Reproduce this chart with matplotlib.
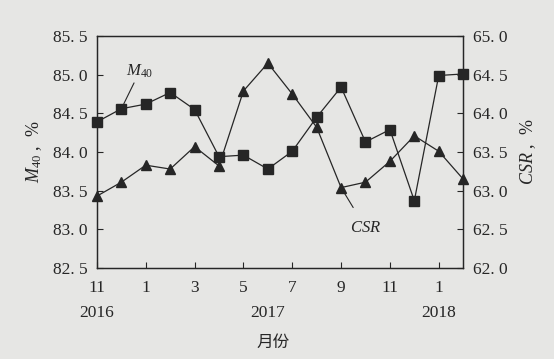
import numpy as np
import matplotlib
matplotlib.use("Agg")
import matplotlib.pyplot as plt
import matplotlib.transforms as mtransforms

plt.rcParams['font.family'] = ['Liberation Serif', 'Noto Sans CJK SC', 'DejaVu Sans']
plt.rcParams['mathtext.fontset'] = 'custom'
plt.rcParams['mathtext.it'] = 'Liberation Serif:italic'
plt.rcParams['mathtext.rm'] = 'Liberation Serif'

# months Nov 2016 .. Feb 2018
month_idx = list(range(16))
m40 = [84.39, 84.56, 84.62, 84.77, 84.55, 83.94, 83.96, 83.78,
       84.01, 84.45, 84.84, 84.13, 84.29, 83.37, 84.99, 85.01]
csr = [62.93, 63.11, 63.33, 63.28, 63.57, 63.32, 64.29, 64.65,
       64.25, 63.82, 63.04, 63.11, 63.38, 63.71, 63.51, 63.15]
tick_pos = [0, 2, 4, 6, 8, 10, 12, 14]
tick_lab = ['11', '1', '3', '5', '7', '9', '11', '1']
years = [(0, '2016'), (7, '2017'), (14, '2018')]
left_ticks = [82.5, 83.0, 83.5, 84.0, 84.5, 85.0, 85.5]
right_ticks = [62.0, 62.5, 63.0, 63.5, 64.0, 64.5, 65.0]

bg = '#e6e6e4'
ink = '#262626'

fig = plt.figure(figsize=(5.54, 3.59), dpi=100, facecolor=bg)
ax = fig.add_axes([0.175, 0.2535, 0.661, 0.646])
ax.set_facecolor(bg)
ax2 = ax.twinx()

ax.plot(month_idx, m40, color=ink, lw=0.9, marker='s', ms=6.5, mfc=ink, mec=ink, clip_on=False, zorder=3)
ax2.plot(month_idx, csr, color=ink, lw=0.9, marker='^', ms=6.5, mfc=ink, mec=ink, clip_on=False, zorder=3)

ax.set_xlim(0, 15)
ax.set_ylim(82.5, 85.5)
ax2.set_ylim(62.0, 65.0)

ax.set_xticks(tick_pos)
ax.set_xticklabels(tick_lab)
ax.set_yticks(left_ticks)
ax.set_yticklabels([f'{v:.1f}'.replace('.', '. ') for v in left_ticks])
ax2.set_yticks(right_ticks)
ax2.set_yticklabels([f'{v:.1f}'.replace('.', '. ') for v in right_ticks])

for a in (ax, ax2):
    for s in a.spines.values():
        s.set_color(ink)
        s.set_linewidth(0.9)
ax.tick_params(axis='both', direction='in', length=4, width=0.8, colors=ink, labelsize=12.5, pad=7)
ax.tick_params(axis='x', pad=9)
ax2.tick_params(axis='y', direction='in', length=4, width=0.8, colors=ink, labelsize=12.5, pad=7)

ax.set_ylabel(r'$M_{40}$' + ' ,  %', fontsize=13, color=ink, labelpad=6)
ax2.set_ylabel(r'$CSR$' + ' ,  %', fontsize=13, color=ink, labelpad=8)

trans = mtransforms.blended_transform_factory(ax.transData, ax.transAxes)
for x, y in years:
    ax.text(x, -0.195, y, transform=trans, ha='center', va='center', fontsize=12.5, color=ink)
ax.text(7.2, -0.32, '月份', transform=trans, ha='center', va='center', fontsize=12,
        color=ink, family=['Noto Sans CJK SC'])

ax.annotate(r'$M_{40}$', xy=(1.0, 84.56), xytext=(1.75, 84.93), fontsize=12, color=ink,
            ha='center', va='bottom',
            arrowprops=dict(arrowstyle='-', color=ink, lw=0.8, shrinkA=0, shrinkB=4))
ax2.annotate(r'$CSR$', xy=(10.0, 63.04), xytext=(11.0, 62.52), fontsize=12, color=ink,
             ha='center', va='center',
             arrowprops=dict(arrowstyle='-', color=ink, lw=0.8, shrinkA=8, shrinkB=4))

fig.savefig('out.png', dpi=100, facecolor=bg)
